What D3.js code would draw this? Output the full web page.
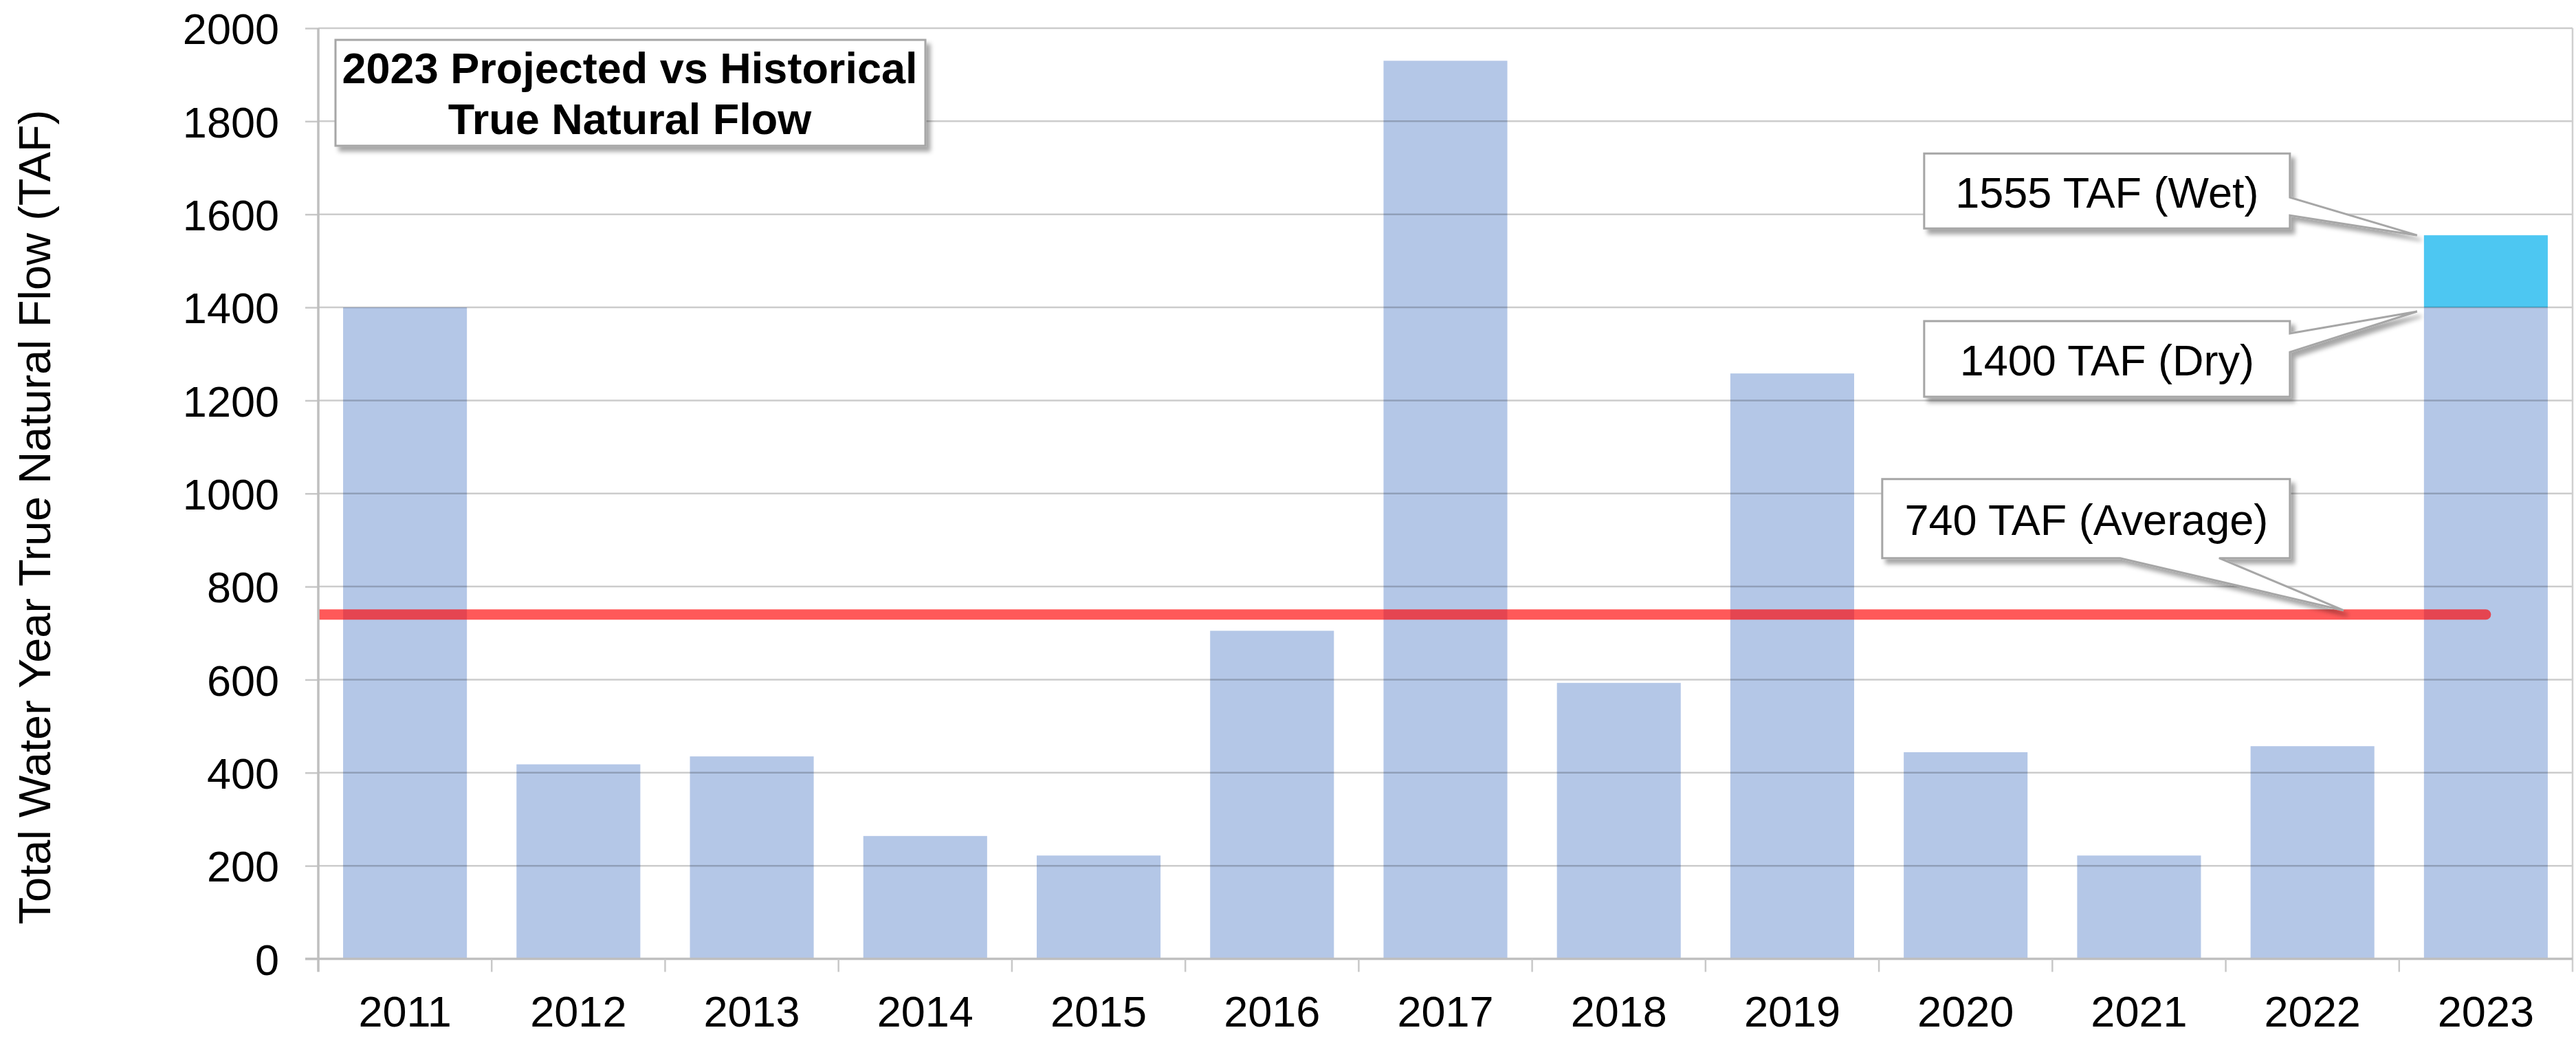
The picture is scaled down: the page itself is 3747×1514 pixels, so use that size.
<!DOCTYPE html>
<meta charset="utf-8">
<script src="https://d3js.org/d3.v7.min.js"></script>
<style>
  body { margin: 0; background: #fff; }
  text { font-family: "Liberation Sans", Arial, sans-serif; }
</style>
<svg id="chart" width="3747" height="1514"></svg>

<script>

  // data (TAF)
  var years = ["2011","2012","2013","2014","2015","2016","2017","2018","2019","2020","2021","2022","2023"];
  var flowTAF = [1400, 418, 435, 264, 222, 705, 1930, 593, 1258, 444, 222, 457, 1400];
  var projectedDry = 1400;
  var projectedWet = 1555;
  var averageTAF = 740;
  var yTicks = [0, 200, 400, 600, 800, 1000, 1200, 1400, 1600, 1800, 2000];

  // plot area
  var svg = d3.select("#chart"),
      plotL = 463, plotR = 3742, plotT = 41, plotB = 1394.5;

  var x = d3.scaleBand()
      .domain(years)
      .range([plotL, plotR])
      .paddingInner(0.286)
      .paddingOuter(0.143);

  var y = d3.scaleLinear()
      .domain([0, 2000])
      .range([plotB, plotT]);

  var defs = svg.append("defs");
  defs.append("filter")
      .attr("id", "shadow")
      .attr("x", "-10%").attr("y", "-20%")
      .attr("width", "130%").attr("height", "150%")
    .append("feDropShadow")
      .attr("dx", 6).attr("dy", 7)
      .attr("stdDeviation", 3)
      .attr("flood-color", "#000")
      .attr("flood-opacity", 0.35);
  defs.append("clipPath")
      .attr("id", "plotclip")
    .append("rect")
      .attr("x", plotL).attr("y", 0)
      .attr("width", plotR - plotL).attr("height", plotB);

  // bars
  svg.append("g")
    .selectAll("rect")
    .data(years)
    .enter()
    .append("rect")
      .attr("x", function(d){ return x(d) })
      .attr("y", function(d,i){ return y(flowTAF[i]) })
      .attr("width", x.bandwidth())
      .attr("height", function(d,i){ return plotB - y(flowTAF[i]) })
      .attr("fill", "#b4c7e7");

  // 2023 wet scenario on top of the dry one
  svg.append("rect")
      .attr("x", x("2023"))
      .attr("y", y(projectedWet))
      .attr("width", x.bandwidth())
      .attr("height", y(projectedDry) - y(projectedWet))
      .attr("fill", "#4dc7f2");

  // gridlines (drawn over the bars, like the original)
  svg.append("g")
    .selectAll("line")
    .data(yTicks)
    .enter()
    .append("line")
      .attr("x1", plotL).attr("x2", plotR)
      .attr("y1", function(d){ return y(d) })
      .attr("y2", function(d){ return y(d) })
      .attr("stroke", "rgba(0,0,0,0.2)")
      .attr("stroke-width", 2.5);

  // right border of plot area
  svg.append("line")
      .attr("x1", plotR).attr("x2", plotR)
      .attr("y1", plotT).attr("y2", plotB + 19)
      .attr("stroke", "#cfcfcf")
      .attr("stroke-width", 2.5);

  // average line
  svg.append("line")
      .attr("clip-path", "url(#plotclip)")
      .attr("x1", plotL)
      .attr("x2", x("2023") + x.bandwidth() / 2)
      .attr("y1", y(averageTAF)).attr("y2", y(averageTAF))
      .attr("stroke", "rgba(255,0,0,0.65)")
      .attr("stroke-width", 15)
      .attr("stroke-linecap", "round");

  // y axis
  var yAxis = svg.append("g")
      .attr("transform", "translate(" + plotL + ",0)")
      .call(d3.axisLeft(y).tickValues(yTicks).tickFormat(d3.format("d"))
              .tickSize(19).tickSizeOuter(0).tickPadding(38));
  yAxis.select(".domain").remove();
  yAxis.selectAll(".tick line").attr("stroke", "#c8c8c8").attr("stroke-width", 2.5);
  yAxis.selectAll("text")
      .attr("font-size", 63)
      .attr("fill", "#000")
      .attr("dy", "0.36em")
      .style("font-family", "'Liberation Sans', Arial, sans-serif");
  svg.append("line")
      .attr("x1", plotL).attr("x2", plotL)
      .attr("y1", plotT).attr("y2", plotB + 19)
      .attr("stroke", "#bfbfbf")
      .attr("stroke-width", 3.5);

  // x axis
  var xAxis = svg.append("g")
      .attr("transform", "translate(0," + plotB + ")")
      .call(d3.axisBottom(x).tickSize(0).tickSizeOuter(0));
  xAxis.select(".domain").remove();
  xAxis.selectAll("text")
      .attr("y", 98)
      .attr("dy", "0")
      .attr("font-size", 63)
      .attr("fill", "#000")
      .style("font-family", "'Liberation Sans', Arial, sans-serif");
  svg.append("line")
      .attr("x1", plotL - 19).attr("x2", plotR)
      .attr("y1", plotB).attr("y2", plotB)
      .attr("stroke", "#bfbfbf")
      .attr("stroke-width", 3.5);
  svg.append("g")
    .selectAll("line")
    .data(years.slice(1))
    .enter()
    .append("line")
      .attr("x1", function(d){ return x(d) - x.step() * x.paddingInner() / 2 })
      .attr("x2", function(d){ return x(d) - x.step() * x.paddingInner() / 2 })
      .attr("y1", plotB).attr("y2", plotB + 19)
      .attr("stroke", "#c8c8c8")
      .attr("stroke-width", 2.5);

  // y axis title
  svg.append("text")
      .attr("transform", "translate(73,752) rotate(-90)")
      .attr("text-anchor", "middle")
      .attr("font-size", 65)
      .attr("fill", "#000")
      .text("Total Water Year True Natural Flow (TAF)");

  // title box
  var title = svg.append("g");
  title.append("rect")
      .attr("x", 488).attr("y", 58)
      .attr("width", 858).attr("height", 154)
      .attr("fill", "#fff")
      .attr("stroke", "#a6a6a6")
      .attr("stroke-width", 3)
      .attr("filter", "url(#shadow)");
  title.append("text")
      .attr("x", 916).attr("y", 121)
      .attr("text-anchor", "middle")
      .attr("font-size", 63)
      .attr("font-weight", "bold")
      .text("2023 Projected vs Historical");
  title.append("text")
      .attr("x", 916).attr("y", 195)
      .attr("text-anchor", "middle")
      .attr("font-size", 63)
      .attr("font-weight", "bold")
      .text("True Natural Flow");

  // callouts: box + pointer as one outline
  function calloutSide(x0, y0, x1, y1, p1, p2, tip) {
    // pointer leaves the right edge between p1 and p2 (y values)
    return "M" + x0 + "," + y0 + "H" + x1 + "V" + p1 +
           "L" + tip[0] + "," + tip[1] + "L" + x1 + "," + p2 +
           "V" + y1 + "H" + x0 + "Z";
  }
  function calloutBottom(x0, y0, x1, y1, p1, p2, tip) {
    // pointer leaves the bottom edge between p1 and p2 (x values)
    return "M" + x0 + "," + y0 + "H" + x1 + "V" + y1 + "H" + p2 +
           "L" + tip[0] + "," + tip[1] + "L" + p1 + "," + y1 +
           "H" + x0 + "Z";
  }
  function callout(d, label, tx, ty) {
    var g = svg.append("g");
    g.append("path")
        .attr("d", d)
        .attr("fill", "#fff")
        .attr("stroke", "#a6a6a6")
        .attr("stroke-width", 3)
        .attr("stroke-linejoin", "miter")
        .attr("filter", "url(#shadow)");
    g.append("text")
        .attr("x", tx).attr("y", ty)
        .attr("text-anchor", "middle")
        .attr("font-size", 63)
        .attr("fill", "#000")
        .text(label);
  }

  var bx = x("2023") - 195;   // right edge of the callout boxes
  var tipX = x("2023") - 10;

  callout(calloutSide(bx - 532, y(projectedWet) - 119, bx, y(projectedWet) - 10,
                      y(projectedWet) - 55, y(projectedWet) - 29, [tipX, y(projectedWet)]),
          projectedWet + " TAF (Wet)", bx - 266, y(projectedWet) - 40);

  callout(calloutSide(bx - 532, y(projectedDry) + 20, bx, y(projectedDry) + 130,
                      y(projectedDry) + 38, y(projectedDry) + 65, [tipX, y(projectedDry) + 6]),
          projectedDry + " TAF (Dry)", bx - 266, y(projectedDry) + 99);

  callout(calloutBottom(bx - 593, y(averageTAF) - 197, bx, y(averageTAF) - 82,
                        bx - 247, bx - 103, [x("2023") - 117, y(averageTAF) - 6]),
          averageTAF + " TAF (Average)", bx - 296, y(averageTAF) - 116);

</script>
